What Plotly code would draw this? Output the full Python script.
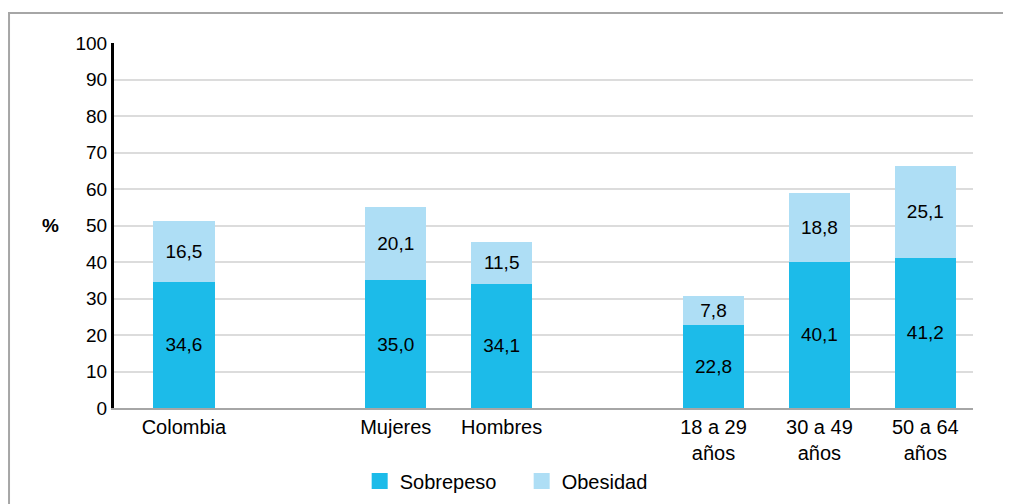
import plotly.graph_objects as go

categories = ["Colombia", " ", "Mujeres", "Hombres", "  ", "18 a 29<br>años", "30 a 49<br>años", "50 a 64<br>años"]
sobrepeso = [34.6, None, 35.0, 34.1, None, 22.8, 40.1, 41.2]
obesidad = [16.5, None, 20.1, 11.5, None, 7.8, 18.8, 25.1]
series_names = ["Sobrepeso", "Obesidad"]
y_ticks = [0, 10, 20, 30, 40, 50, 60, 70, 80, 90, 100]

FONT = "Liberation Sans, Arial, sans-serif"
FS = 19
C_SOB = "#1CBBE9"
C_OBE = "#AEDEF5"

fig = go.Figure()
for name, vals, col in [(series_names[0], sobrepeso, C_SOB), (series_names[1], obesidad, C_OBE)]:
    fig.add_trace(go.Bar(
        x=categories, y=vals, name=name, marker_color=col, marker_line_width=0,
        width=0.58, texttemplate="%{y:.1f}", textposition="inside",
        insidetextanchor="middle", textangle=0, showlegend=False,
        textfont=dict(color="black", size=FS, family=FONT),
    ))
# legend entries with square swatches
for name, col in [(series_names[0], C_SOB), (series_names[1], C_OBE)]:
    fig.add_trace(go.Scatter(
        x=[None], y=[None], mode="markers", name=name,
        marker=dict(symbol="square", size=18, color=col),
    ))

fig.update_layout(
    barmode="stack",
    separators=",.",
    width=1011, height=504,
    margin=dict(l=106, r=46, t=35, b=104),
    paper_bgcolor="white", plot_bgcolor="white",
    font=dict(family=FONT, size=FS, color="black"),
    showlegend=True,
    legend=dict(orientation="h", x=0.286, xanchor="left", y=-0.2, yanchor="middle",
                font=dict(size=20, family=FONT), traceorder="normal",
                itemsizing="trace", entrywidth=117, entrywidthmode="pixels"),
    xaxis=dict(
        type="category", categoryorder="array", categoryarray=categories,
        range=[-0.66, 7.45], showgrid=False, zeroline=False,
        showline=True, linecolor="#A6A6A6", linewidth=2,
        ticks="", tickfont=dict(size=20, family=FONT, color="black"),
    ),
    yaxis=dict(
        range=[0, 100], tickvals=y_ticks, showgrid=True, gridcolor="#DCDCDC", gridwidth=2,
        zeroline=False, showline=True, linecolor="black", linewidth=3,
        ticks="", tickfont=dict(size=FS, family=FONT, color="black"),
    ),
    shapes=[dict(type="rect", xref="paper", yref="paper",
                 x0=-0.1222, x1=1.1, y0=-0.4, y1=1.0822,
                 line=dict(color="#A6A6A6", width=2), fillcolor="rgba(0,0,0,0)", layer="below")],
    annotations=[dict(text="<b>%</b>", xref="paper", yref="paper", x=-0.0745, y=0.501,
                      xanchor="center", yanchor="middle",
                      showarrow=False, font=dict(size=FS, family=FONT, color="black"))],
)

fig.write_html("out.html")
